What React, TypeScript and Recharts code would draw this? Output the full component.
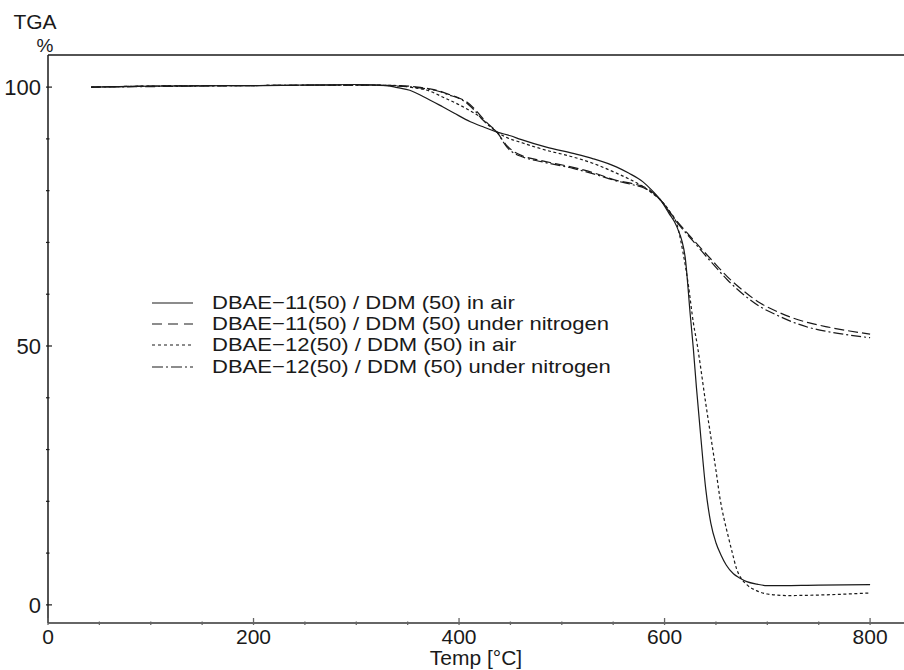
import React from "react";
import { Legend, Line, LineChart, ReferenceLine, XAxis, YAxis } from "recharts";

// DBAE-11(50)/DDM(50) in air
const temps11Air = [42, 100, 200, 300, 330, 340, 352, 365, 384, 395, 411, 425, 437, 450, 460, 485, 511, 530, 553, 565, 579, 588, 596, 604, 612, 620, 625, 628, 631, 635, 640, 645, 650, 655, 660, 667, 673, 680, 690, 700, 750, 800];
const tga11Air = [100, 100.2, 100.3, 100.5, 100.3, 99.9, 99.4, 98.2, 96.2, 95, 93.3, 92.2, 91.3, 90.6, 89.9, 88.4, 87.2, 86.2, 84.6, 83.4, 81.7, 80, 78.2, 75.7, 73, 67.2, 56, 49.5, 42, 33, 22.5, 15.8, 12, 9.6, 7.7, 6, 5.2, 4.5, 4, 3.7, 3.8, 3.9];

// DBAE-12(50)/DDM(50) in air
const temps12Air = [42, 100, 200, 300, 340, 355, 369, 385, 401, 410, 420, 428, 437, 445, 462, 485, 511, 530, 553, 566, 579, 588, 596, 605, 612, 618, 623, 628, 632, 635, 640, 645, 650, 654, 658, 661, 666, 670, 675, 680, 690, 700, 720, 750, 800];
const tga12Air = [100, 100.2, 100.3, 100.4, 100.3, 99.9, 99.4, 98, 96.5, 95.5, 94.3, 92.8, 91.3, 90.4, 89.2, 87.8, 86.5, 85.3, 83.4, 82.2, 80.8, 79.5, 78.2, 76, 73.5, 68, 62, 54.5, 50, 46, 39, 32.5, 26, 20.5, 16.5, 14, 10, 7, 5, 3.9, 2.7, 2.1, 1.8, 1.9, 2.3];

// under nitrogen (both resins share the temperature grid)
const tempsN2 = [42, 100, 200, 300, 340, 360, 370, 380, 390, 400, 407, 415, 423, 430, 437, 443, 447, 453, 462, 480, 511, 530, 553, 570, 579, 590, 596, 610, 628, 645, 661, 677, 693, 710, 725, 740, 758, 780, 800];
const tga11N2 = [100, 100.2, 100.3, 100.4, 100.3, 100, 99.7, 99.3, 98.6, 97.9, 97.2, 95.8, 94, 92.6, 91.3, 89.6, 88.6, 87.6, 86.7, 85.8, 84.5, 83.5, 82, 81.3, 80.8, 79.4, 78.2, 74.6, 70.5, 66.8, 63.4, 60.6, 58.3, 56.6, 55.4, 54.5, 53.7, 52.9, 52.3];
const tga12N2 = [100, 100.1, 100.3, 100.4, 100.2, 99.9, 99.6, 99.2, 98.5, 97.8, 97, 95.5, 93.7, 92.4, 91.3, 89.4, 88.3, 87.3, 86.5, 85.6, 84.3, 83.3, 81.9, 81.1, 80.6, 79.3, 78.2, 74.4, 70.2, 66.3, 62.8, 59.9, 57.6, 55.9, 54.6, 53.6, 52.8, 52.1, 51.6];

const seriesNames = [
  "DBAE\u221211(50) / DDM (50) in air",
  "DBAE\u221211(50) / DDM (50) under nitrogen",
  "DBAE\u221212(50) / DDM (50) in air",
  "DBAE\u221212(50) / DDM (50) under nitrogen",
];

const xTicks = [0, 50, 100, 150, 200, 250, 300, 350, 400, 450, 500, 550, 600, 650, 700, 750, 800];
const yTicks = [0, 10, 20, 30, 40, 50, 60, 70, 80, 90, 100];
const xDomain = [0, 833];
const yDomain = [-3.5, 106.2];

const zip = (xs: number[], ys: number[]) => xs.map((t, i) => ({ t, v: ys[i] }));

const series = [
  { name: seriesNames[0], data: zip(temps11Air, tga11Air), dash: undefined, sample: undefined },
  { name: seriesNames[1], data: zip(tempsN2, tga11N2), dash: "10 4", sample: "10 6" },
  { name: seriesNames[2], data: zip(temps12Air, tga12Air), dash: "3 2.5", sample: "3 3" },
  { name: seriesNames[3], data: zip(tempsN2, tga12N2), dash: "10 3 2 3", sample: "11 3 2 3" },
];

const FONT = "'Liberation Sans', Arial, Helvetica, sans-serif";
const INK = "#1a1a1a";

function XTick({ x, y, payload }: any) {
  const major = payload.value % 200 === 0;
  return (
    <g>
      <line x1={x} x2={x} y1={y} y2={y - (major ? 7 : 3.5)} stroke="#666" strokeWidth={1.3} />
      {major && (
        <text x={x} y={y + 19} textAnchor="middle" fontSize={21} fontFamily={FONT} fill={INK}>
          {payload.value}
        </text>
      )}
    </g>
  );
}

function YTick({ x, y, payload }: any) {
  const major = payload.value % 50 === 0;
  return (
    <g>
      <line x1={x} x2={x + (major ? 6 : 3.5)} y1={y} y2={y} stroke={INK} strokeWidth={1.2} />
      {major && (
        <text x={x - 5} y={y} dy="0.36em" textAnchor="end" fontSize={22} fontFamily={FONT} fill={INK}>
          {payload.value}
        </text>
      )}
    </g>
  );
}

function YTitle() {
  return (
    <g fontFamily={FONT} fill={INK}>
      <text x={35} y={29} textAnchor="middle" fontSize={21}>TGA</text>
      <text x={45} y={52} textAnchor="middle" fontSize={19}>%</text>
    </g>
  );
}

function LegendBox() {
  return (
    <div style={{ fontFamily: FONT, fontSize: 19, color: INK }}>
      {series.map((s) => (
        <div key={s.name} style={{ display: "flex", alignItems: "center", height: 21.3, whiteSpace: "nowrap" }}>
          <svg width={41} height={10} style={{ marginRight: 19 }}>
            <line x1={0} x2={41} y1={5} y2={5} stroke={INK} strokeWidth={1.2} strokeDasharray={s.sample} />
          </svg>
          <span style={{ display: "inline-block", lineHeight: "20px", transform: "scaleX(1.16)", transformOrigin: "left center" }}>
            {s.name}
          </span>
        </div>
      ))}
    </div>
  );
}

export default function App() {
  return (
    <div style={{ position: "absolute", left: 0, top: 0, background: "#fff" }}>
      <LineChart width={904} height={670} margin={{ top: 55, right: 0, left: 0, bottom: 0 }}>
        <XAxis
          dataKey="t"
          type="number"
          domain={xDomain}
          ticks={xTicks}
          interval={0}
          height={47}
          tickSize={0}
          tickLine={false}
          tick={<XTick />}
          axisLine={{ stroke: "#666", strokeWidth: 2 }}
          label={{ value: "Temp [\u00b0C]", position: "insideBottom", offset: 5, fontSize: 21, fontFamily: FONT, fill: INK }}
        />
        <YAxis
          type="number"
          domain={yDomain}
          ticks={yTicks}
          interval={0}
          width={48}
          tickSize={0}
          tickLine={false}
          tick={<YTick />}
          axisLine={{ stroke: INK, strokeWidth: 1.5 }}
          label={<YTitle />}
        />
        <ReferenceLine y={yDomain[1]} stroke={INK} strokeWidth={1.3} />
        {series.map((s) => (
          <Line
            key={s.name}
            data={s.data}
            dataKey="v"
            name={s.name}
            type="monotone"
            stroke={INK}
            strokeWidth={1.2}
            strokeDasharray={s.dash}
            dot={false}
            activeDot={false}
            isAnimationActive={false}
          />
        ))}
        <Legend
          layout="vertical"
          align="center"
          verticalAlign="middle"
          content={<LegendBox />}
          wrapperStyle={{ left: 152, top: 292, width: "auto" }}
        />
      </LineChart>
    </div>
  );
}
